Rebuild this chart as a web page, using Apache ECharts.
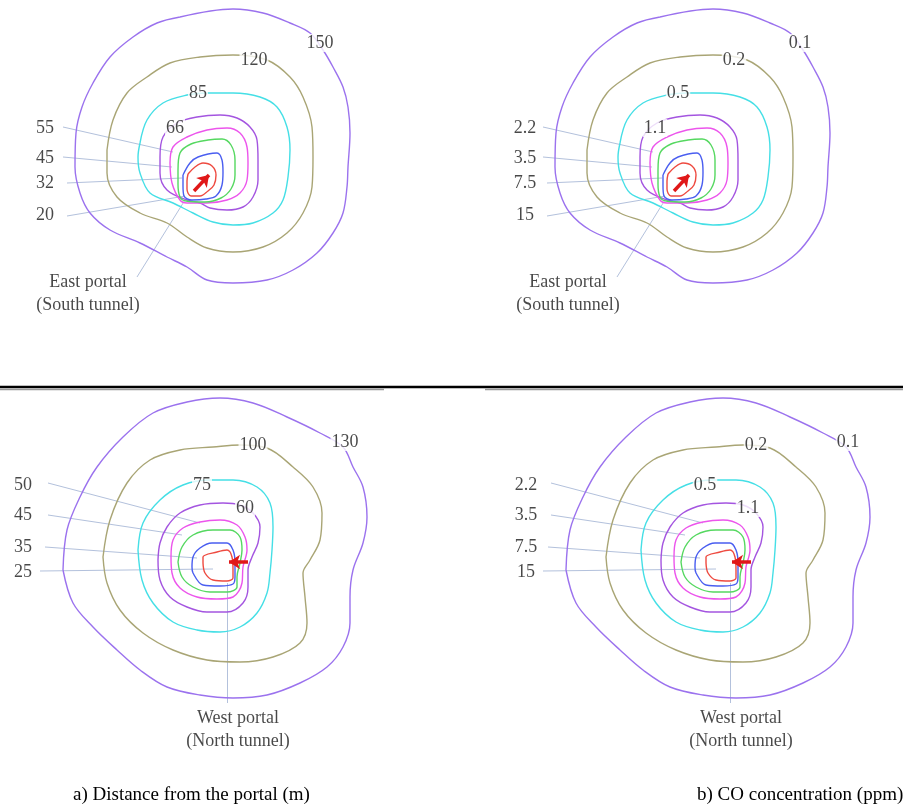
<!DOCTYPE html>
<html><head><meta charset="utf-8">
<script src="https://cdn.jsdelivr.net/npm/echarts@6/dist/echarts.min.js"></script>
<style>html,body{margin:0;padding:0;background:#fff}#c{width:903px;height:808px}</style>
</head><body><div id="c"></div>
<script>
// ---------- DATA: contour lines (x, y relative to the portal, y upward), outer -> inner ----------
// South tunnel (East portal) - top row
const southC1 = [[-22,164],[31,172],[61,168],[88,158],[108,148],[121,131],[131,114],[141,94],[146,74],[148,48],[146,14],[145,-6],[141,-32],[131,-52],[115,-72],[91,-89],[65,-99],[31,-102],[5,-99],[-15,-86],[-35,-76],[-62,-62],[-92,-49],[-112,-32],[-122,-12],[-127,14],[-126,48],[-120,74],[-109,98],[-92,124],[-69,144],[-45,158]];
const southC2 = [[-95,31],[-89,61],[-75,88],[-55,104],[-32,118],[-2,124],[31,126],[65,121],[88,104],[101,84],[110,54],[111,24],[110,-6],[101,-32],[85,-52],[61,-66],[31,-71],[5,-67],[-15,-56],[-35,-42],[-62,-32],[-85,-16],[-95,8]];
const southC3 = [[-62,38],[-55,61],[-39,78],[-15,86],[5,88],[31,88],[58,84],[75,74],[85,54],[88,31],[86,4],[81,-19],[71,-32],[51,-42],[31,-44],[11,-41],[-9,-32],[-29,-22],[-52,-12],[-62,8],[-64,24]];
const southC4 = [[-42,24],[-39,44],[-25,58],[-5,64],[18,66],[35,63],[48,54],[55,41],[56,21],[56,1],[51,-16],[41,-26],[25,-29],[8,-27],[-2,-22],[-15,-19],[-35,-9],[-42,8]];
const southC5 = [[-32,18],[-29,34],[-15,44],[5,51],[25,53],[38,48],[45,34],[46,18],[45,1],[38,-12],[25,-19],[5,-22],[-15,-22],[-22,-19],[-30,-2]];
const southC6 = [[-24,11],[-22,28],[-11,37],[6,41],[20,42],[29,36],[33,21],[33,6],[29,-8],[19,-17],[3,-21],[-16,-20],[-22,-16],[-24,-3]];
const southC7 = [[-19,6],[-12,18],[-4,24],[15,28],[20,21],[21,9],[20,-4],[14,-15],[4,-18],[-10,-19],[-18,-15],[-19,-5]];
const southC8 = [[-14,7],[-7,14],[1,18],[10,15],[14,6],[12,-4],[6,-10],[-2,-15],[-11,-15],[-15,-8],[-15,0]];
// North tunnel (West portal) - bottom row
const northC1 = [[-157,-5],[-153,35],[-140,68],[-123,98],[-97,128],[-67,152],[-33,163],[0,167],[33,162],[67,148],[100,132],[123,118],[133,98],[143,78],[147,48],[143,22],[133,-5],[130,-32],[130,-58],[123,-82],[107,-102],[80,-118],[47,-130],[13,-133],[-20,-130],[-53,-122],[-80,-105],[-103,-85],[-127,-62],[-147,-38]];
const northC2 = [[-117,8],[-110,45],[-93,82],[-70,105],[-40,115],[-7,118],[20,120],[47,117],[73,98],[93,78],[102,52],[100,25],[90,5],[83,-8],[85,-32],[87,-58],[80,-78],[53,-92],[20,-97],[-13,-95],[-47,-85],[-77,-68],[-100,-45],[-113,-18]];
const northC3 = [[-82,15],[-77,42],[-60,65],[-37,80],[-10,85],[13,85],[37,78],[50,62],[53,38],[52,15],[50,-8],[47,-28],[37,-48],[20,-62],[0,-67],[-23,-65],[-47,-57],[-67,-38],[-78,-15]];
const northC4 = [[-62,5],[-60,22],[-53,38],[-40,52],[-20,60],[3,62],[20,60],[33,52],[40,38],[38,22],[32,8],[28,-5],[28,-22],[23,-38],[7,-47],[-13,-47],[-33,-42],[-50,-32],[-60,-15]];
const northC5 = [[-49,8],[-47,25],[-37,37],[-20,43],[0,45],[17,40],[25,28],[27,15],[23,-2],[22,-18],[13,-32],[-3,-34],[-23,-32],[-40,-23],[-48,-8]];
const northC6 = [[-42,3],[-38,18],[-27,30],[-7,35],[10,35],[20,28],[22,15],[20,2],[17,-12],[17,-22],[7,-27],[-10,-27],[-27,-22],[-38,-12]];
const northC7 = [[-28,-2],[-27,8],[-20,17],[-8,22],[7,22],[13,15],[15,2],[15,-12],[13,-19],[0,-21],[-17,-20],[-27,-8]];
const northC8 = [[-17,2],[-17,8],[-3,13],[7,15],[12,8],[13,-5],[13,-13],[7,-16],[-7,-15],[-15,-8]];

// Contour level labels
const southDistLevels = ['150','120','85','66','55','45','32','20'];
const northDistLevels = ['130','100','75','60','50','45','35','25'];
const coLevels = ['0.1','0.2','0.5','1.1','2.2','3.5','7.5','15'];
const portalNames = ['East portal\n(South tunnel)', 'West portal\n(North tunnel)'];
const captions = ['a) Distance from the portal (m)', 'b) CO concentration (ppm)'];

// ---------- LAYOUT / STYLE ----------
const contourColors = ['#9b72ee','#a9a575','#45dfe6','#a455e0','#ec55ec','#55d860','#4a5ef0','#ee4a40'];
const southLayout = {
  labelPos: [[118,138],[52,121],[-4,88],[-27,53],[-157,53],[-157,23],[-157,-2],[-157,-34]],
  leaders: [[[-139,54],[-29,29]],[[-139,24],[-30,14]],[[-135,-2],[-20,3]],[[-135,-35],[-17,-15]],[[-65,-96],[-17,-19]]],
  portalPos: [-114,-113],
  arrow: [[-8,-10],[7,6]]
};
const northLayout = {
  labelPos: [[125,123],[33,120],[-18,80],[25,57],[-197,80],[-197,50],[-197,18],[-197,-7]],
  leaders: [[[-172,82],[-20,42]],[[-172,50],[-38,30]],[[-175,18],[-23,7]],[[-180,-6],[-7,-4]],[[7,-18],[7,-138]]],
  portalPos: [18,-165],
  arrow: [[28,3],[9,3]]
};
const W = 903, H = 808;
const panels = [
  {cx:202, cy:181, contours:[southC1,southC2,southC3,southC4,southC5,southC6,southC7,southC8], levels:southDistLevels, layout:southLayout, portal:portalNames[0]},
  {cx:682, cy:181, contours:[southC1,southC2,southC3,southC4,southC5,southC6,southC7,southC8], levels:coLevels, layout:southLayout, portal:portalNames[0]},
  {cx:220, cy:565, contours:[northC1,northC2,northC3,northC4,northC5,northC6,northC7,northC8], levels:northDistLevels, layout:northLayout, portal:portalNames[1]},
  {cx:723, cy:565, contours:[northC1,northC2,northC3,northC4,northC5,northC6,northC7,northC8], levels:coLevels, layout:northLayout, portal:portalNames[1]}
];
const serif = "'Liberation Serif','Times New Roman',serif";

const grid = [], xAxis = [], yAxis = [], series = [];
panels.forEach((p, i) => {
  grid.push({left:0, top:0, width:W, height:H});
  xAxis.push({type:'value', gridIndex:i, min:-p.cx, max:W-p.cx, show:false});
  yAxis.push({type:'value', gridIndex:i, min:-(H-p.cy), max:p.cy, show:false});
  p.contours.forEach((c, k) => {
    series.push({type:'line', xAxisIndex:i, yAxisIndex:i, data:c.concat([c[0]]), showSymbol:false, symbol:'none',
      smooth:0.35, silent:true, z:2, lineStyle:{color:contourColors[k], width:1.4}});
  });
  series.push({type:'lines', coordinateSystem:'cartesian2d', xAxisIndex:i, yAxisIndex:i, silent:true, z:1,
    data:p.layout.leaders.map(l => ({coords:l})), lineStyle:{color:'#b3c1dc', width:1, opacity:1}});
  series.push({type:'lines', coordinateSystem:'cartesian2d', xAxisIndex:i, yAxisIndex:i, silent:true, z:5,
    symbol:['none','arrow'], symbolSize:11,
    data:[{coords:p.layout.arrow}], lineStyle:{color:'#e01818', width:3.5, opacity:1}});
  const lab = p.levels.map((t, k) => ({name:t, value:p.layout.labelPos[k], bg: k < 4}));
  series.push({type:'scatter', xAxisIndex:i, yAxisIndex:i, symbolSize:0, silent:true, z:6,
    data:lab.map(d => ({name:d.name, value:d.value,
      label:{show:true, position:'inside', formatter:'{b}', color:'#1a1a1a', fontFamily:serif, fontSize:18,
        backgroundColor: d.bg ? '#fff' : 'transparent', padding:[0,1]}}))});
  series.push({type:'scatter', xAxisIndex:i, yAxisIndex:i, symbolSize:0, silent:true, z:6,
    data:[{name:p.portal, value:p.layout.portalPos}],
    label:{show:true, position:'inside', formatter:'{b}', color:'#1a1a1a', fontFamily:serif, fontSize:18, lineHeight:23, align:'center'}});
});

const chart = echarts.init(document.getElementById('c'), null, {renderer:'canvas'});
chart.setOption({
  animation:false,
  backgroundColor:'#fff',
  grid, xAxis, yAxis, series,
  graphic:[
    {type:'line', shape:{x1:0, y1:387, x2:W, y2:387}, style:{stroke:'#000', lineWidth:2.5}},
    {type:'line', shape:{x1:0, y1:389.5, x2:384, y2:389.5}, style:{stroke:'#999', lineWidth:1.5}},
    {type:'line', shape:{x1:485, y1:389.5, x2:W, y2:389.5}, style:{stroke:'#999', lineWidth:1.5}},
    {type:'text', x:73, y:795, style:{text:captions[0], font:"19px 'Liberation Serif', serif", fill:'#000', verticalAlign:'middle'}},
    {type:'text', x:697, y:795, style:{text:captions[1], font:"19px 'Liberation Serif', serif", fill:'#000', verticalAlign:'middle'}}
  ]
});
</script></body></html>
